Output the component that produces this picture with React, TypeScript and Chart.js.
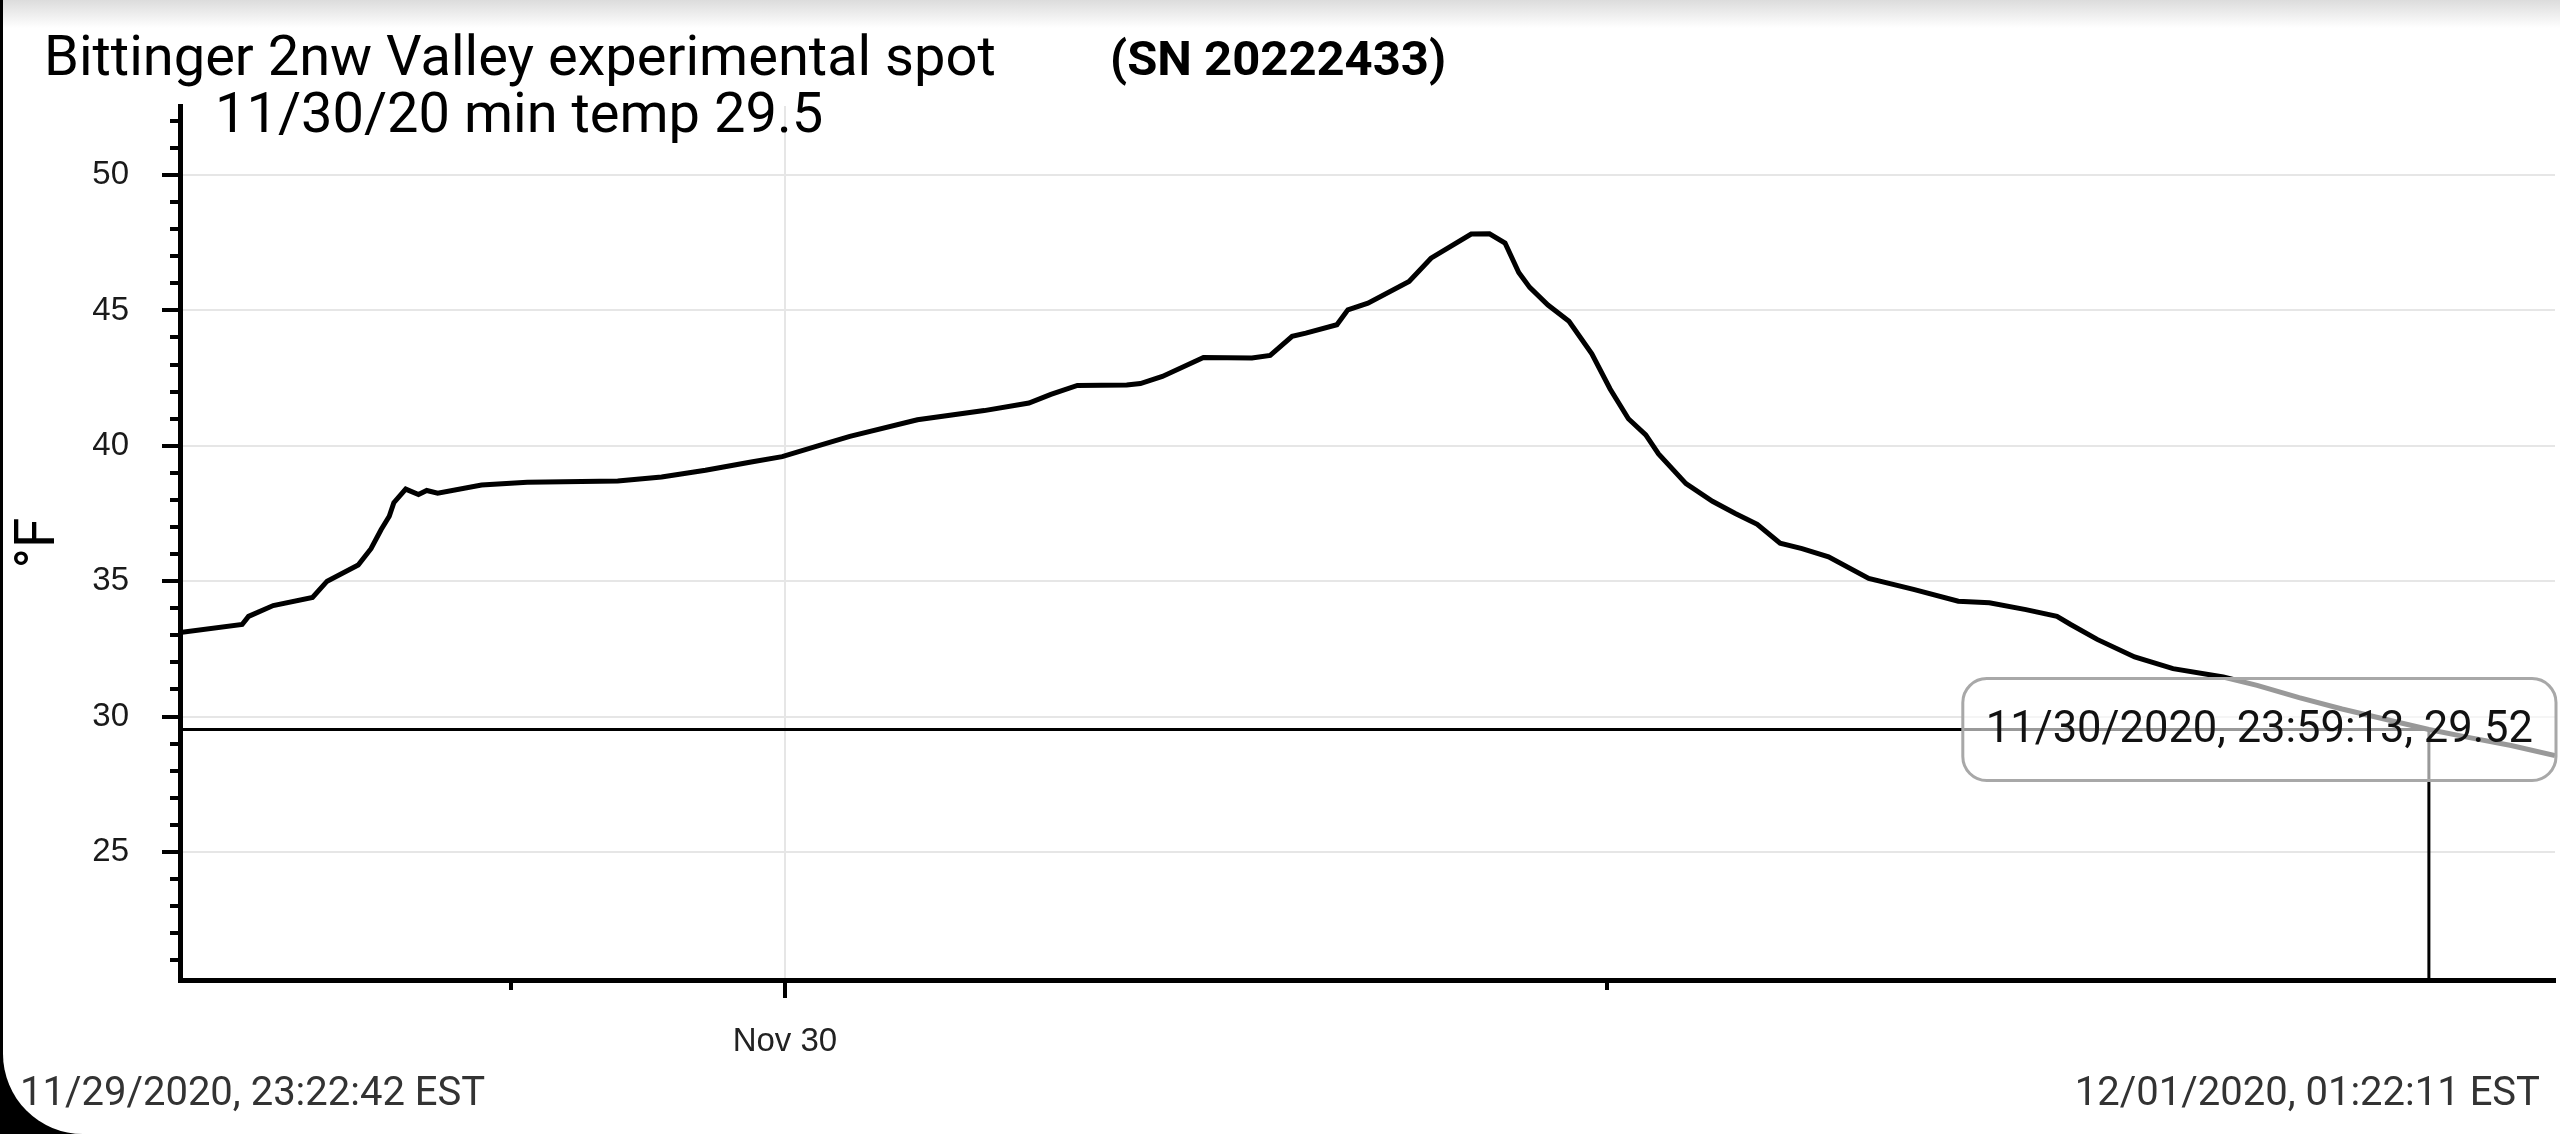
import { useEffect, useRef } from "react";
import { Chart, Plugin, registerables } from "chart.js";

Chart.register(...registerables);

// hours since the first reading (11/29/2020 23:22:42 EST)
const sampleHours = [
  0, 0.68, 0.75, 1.02, 1.45, 1.61, 1.95, 2.09, 2.2, 2.29,
  2.34, 2.47, 2.61, 2.7, 2.82, 3.3, 3.8, 4.79, 5.27, 5.75,
  6.25, 6.59, 6.98, 7.33, 8.07, 8.8, 9.29, 9.53, 9.82, 10.36,
  10.51, 10.75, 11.2, 11.73, 11.93, 12.17, 12.32, 12.66, 12.78, 13.0,
  13.45, 13.69, 14.13, 14.33, 14.5, 14.65, 14.77, 14.97, 15.2, 15.45,
  15.65, 15.85, 16.04, 16.18, 16.48, 16.77, 17.02, 17.26, 17.51, 17.75,
  18.04, 18.48, 18.97, 19.46, 19.8, 20.2, 20.54, 20.69, 20.98, 21.39,
  21.81, 22.36, 22.73, 23.19, 23.66, 24.12, 24.61, 25.04, 25.51, 25.99,
];

// temperature in °F
const tempF = [
  33.1, 33.4, 33.7, 34.1, 34.4, 35.0, 35.6, 36.2, 36.9, 37.4,
  37.9, 38.4, 38.2, 38.35, 38.25, 38.55, 38.65, 38.7, 38.85, 39.1,
  39.4, 39.6, 40.0, 40.35, 40.96, 41.3, 41.58, 41.9, 42.23, 42.25,
  42.3, 42.56, 43.26, 43.24, 43.34, 44.04, 44.16, 44.47, 45.02, 45.27,
  46.07, 46.93, 47.82, 47.83, 47.49, 46.4, 45.85, 45.2, 44.6, 43.4,
  42.1, 41.0, 40.4, 39.7, 38.6, 37.95, 37.5, 37.1, 36.4, 36.2,
  35.9, 35.1, 34.7, 34.26, 34.2, 33.95, 33.7, 33.4, 32.85, 32.2,
  31.77, 31.46, 31.15, 30.7, 30.28, 29.91, 29.52, 29.23, 28.93, 28.56,
];

const yTicks = [25, 30, 35, 40, 45, 50];
const yMinorTicks = [21, 22, 23, 24, 26, 27, 28, 29, 31, 32, 33, 34, 36, 37, 38, 39, 41, 42, 43, 44, 46, 47, 48, 49, 51, 52];
const yMin = 20.27;
const yMax = 52.55;

const xTickHours = [6.62];
const xTickLabels = ["Nov 30"];
const xMinorTickHours = [3.62, 15.62];
const xMax = 25.99;

const markedHour = 24.61;
const markedTemp = 29.52;
const markedLabel = "11/30/2020, 23:59:13, 29.52";

const startLabel = "11/29/2020, 23:22:42 EST";
const endLabel = "12/01/2020, 01:22:11 EST";

const W = 2560;
const H = 1134;

const minorTicks: Plugin = {
  id: "minorTicks",
  afterDraw(chart) {
    const { ctx, chartArea, scales } = chart;
    ctx.save();
    ctx.strokeStyle = "#000";
    ctx.lineWidth = 4;
    ctx.beginPath();
    yMinorTicks.forEach((v) => {
      const py = Math.round(scales.y.getPixelForValue(v));
      ctx.moveTo(chartArea.left - 10, py);
      ctx.lineTo(chartArea.left, py);
    });
    xMinorTickHours.forEach((v) => {
      const px = Math.round(scales.x.getPixelForValue(v));
      ctx.moveTo(px, chartArea.bottom);
      ctx.lineTo(px, chartArea.bottom + 10);
    });
    ctx.stroke();
    ctx.restore();
  },
};

const marker: Plugin = {
  id: "marker",
  afterDatasetsDraw(chart) {
    const { ctx, chartArea, scales } = chart;
    const px = scales.x.getPixelForValue(markedHour);
    const py = scales.y.getPixelForValue(markedTemp);
    ctx.save();
    ctx.strokeStyle = "#000";
    ctx.lineWidth = 3;
    ctx.beginPath();
    ctx.moveTo(chartArea.left, py);
    ctx.lineTo(px, py);
    ctx.lineTo(px, chartArea.bottom);
    ctx.stroke();
    ctx.restore();
  },
  afterDraw(chart) {
    const { ctx, chartArea, scales } = chart;
    const py = scales.y.getPixelForValue(markedTemp);
    ctx.save();
    ctx.font = "43.5px Roboto";
    const w = ctx.measureText(markedLabel).width + 46;
    const h = 102;
    const left = chartArea.right + 1 - w;
    const top = py - h / 2;
    // translucent label box, the line shows through it in grey
    ctx.beginPath();
    ctx.roundRect(left, top, w, h, 24);
    ctx.fillStyle = "rgba(255,255,255,0.6)";
    ctx.fill();
    ctx.strokeStyle = "#a8a8a8";
    ctx.lineWidth = 3;
    ctx.stroke();
    ctx.fillStyle = "#111";
    ctx.textAlign = "center";
    ctx.textBaseline = "middle";
    ctx.fillText(markedLabel, left + w / 2, py + 2);
    ctx.restore();
  },
};

function TempChart() {
  const canvasRef = useRef<HTMLCanvasElement | null>(null);

  useEffect(() => {
    const canvas = canvasRef.current;
    if (!canvas) return;

    const tickFont = { family: "'Liberation Sans', Arial, sans-serif", size: 33 };

    const chart = new Chart(canvas, {
      type: "line",
      data: {
        datasets: [
          {
            data: sampleHours.map((h, i) => ({ x: h, y: tempF[i] })),
            borderColor: "#000",
            borderWidth: 5,
            pointRadius: 0,
            tension: 0,
            fill: false,
          },
        ],
      },
      options: {
        responsive: false,
        animation: false,
        events: [],
        layout: { padding: { top: 106, right: 5, left: 0, bottom: 0 } },
        plugins: {
          legend: { display: false },
          tooltip: { enabled: false },
        },
        scales: {
          x: {
            type: "linear",
            min: 0,
            max: xMax,
            afterFit: (s) => {
              s.height = 154;
            },
            afterBuildTicks: (s) => {
              s.ticks = xTickHours.map((v) => ({ value: v }));
            },
            ticks: {
              callback: (_v, i) => xTickLabels[i] ?? "",
              font: tickFont,
              color: "#222",
              padding: 24,
              maxRotation: 0,
              autoSkip: false,
            },
            grid: { color: "#e6e6e6", lineWidth: 2, tickColor: "#000", tickLength: 18, tickWidth: 4 },
            border: { color: "#000", width: 5 },
          },
          y: {
            type: "linear",
            min: yMin,
            max: yMax,
            afterFit: (s) => {
              s.width = 180;
            },
            afterBuildTicks: (s) => {
              s.ticks = yTicks.map((v) => ({ value: v }));
            },
            ticks: { font: tickFont, color: "#1a1a1a", padding: 33 },
            title: {
              display: true,
              text: "°F",
              color: "#000",
              font: { family: "Roboto", size: 55 },
              padding: { top: 7, bottom: 0 },
            },
            grid: { color: "#e6e6e6", lineWidth: 2, tickColor: "#000", tickLength: 18, tickWidth: 4 },
            border: { color: "#000", width: 5 },
          },
        },
      },
      plugins: [minorTicks, marker],
    });

    return () => {
      chart.destroy();
    };
  }, []);

  return (
    <canvas
      ref={canvasRef}
      width={W}
      height={H}
      style={{ position: "absolute", left: 0, top: 0, width: W, height: H }}
    />
  );
}

export default function App() {
  const text = { position: "absolute" as const, fontFamily: "Roboto, sans-serif", whiteSpace: "nowrap" as const, lineHeight: 1 };

  return (
    <div style={{ position: "fixed", left: 0, top: 0, width: W, height: H, background: "#000", overflow: "hidden" }}>
      <div
        style={{
          position: "absolute",
          left: 3,
          top: 0,
          right: 0,
          bottom: 0,
          background: "#fff",
          borderBottomLeftRadius: 80,
        }}
      />
      <div
        style={{
          position: "absolute",
          left: 3,
          top: 0,
          right: 0,
          height: 28,
          background: "linear-gradient(#dcdcdc, #ffffff)",
        }}
      />
      <TempChart />
      <div style={{ ...text, left: 44, top: 28, fontSize: 56, color: "#000" }}>
        Bittinger 2nw Valley experimental spot
      </div>
      <div style={{ ...text, left: 1110, top: 34, fontSize: 49, fontWeight: 700, color: "#000" }}>(SN 20222433)</div>
      <div style={{ ...text, left: 215, top: 85, fontSize: 56, color: "#000" }}>11/30/20 min temp 29.5</div>
      <div style={{ ...text, left: 20, top: 1072, fontSize: 40, color: "#333" }}>{startLabel}</div>
      <div style={{ ...text, right: 20, top: 1072, fontSize: 40, color: "#333" }}>{endLabel}</div>
    </div>
  );
}
